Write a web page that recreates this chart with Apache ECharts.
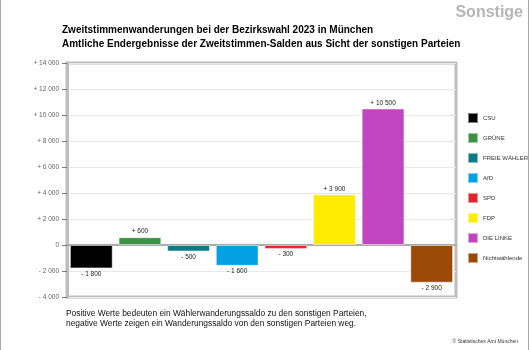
<!DOCTYPE html>
<html lang="de">
<head>
    <meta charset="UTF-8">
    <title>Sonstige</title>
    <style>
        body,html{
            margin: 0;
            padding: 0;
            background: #fff;
        }
    </style>
</head>
<body>
<div id="main" style="width:530px; height:350px;"></div>
<script src="https://cdn.jsdelivr.net/npm/echarts@6/dist/echarts.min.js"></script>
<script>
    var parteien = ['CSU', 'GRÜNE', 'FREIE WÄHLER', 'AfD', 'SPD', 'FDP', 'DIE LINKE', 'Nichtwählende'];
    var salden = [-1800, 600, -500, -1600, -300, 3900, 10500, -2900];
    var farben = ['#000000', '#3f9142', '#0c7b84', '#03a0e3', '#e0242b', '#ffec00', '#c145c1', '#9a4a06'];
    var yTicks = { min: -4000, max: 14000, interval: 2000 };

    function fmt(v) {
        var s = String(Math.abs(v)).replace(/\B(?=(\d{3})+(?!\d))/g, ' ');
        if (v > 0) return '+ ' + s;
        if (v < 0) return '- ' + s;
        return '0';
    }

    var series = parteien.map(function (p, i) {
        return {
            name: p,
            type: 'bar',
            stack: 'alle',
            barWidth: '88%',
            itemStyle: { color: farben[i], borderColor: 'rgba(255,255,255,0.5)', borderWidth: 1 },
            label: {
                show: true,
                position: salden[i] >= 0 ? 'top' : 'bottom',
                distance: 2,
                fontSize: 6.5,
                color: '#222',
                fontFamily: 'Liberation Sans',
                formatter: function (d) { return fmt(d.value); }
            },
            data: parteien.map(function (q, j) { return j === i ? salden[i] : '-'; })
        };
    });

    var myChart = echarts.init(document.getElementById('main'));
    myChart.setOption({
        animation: false,
        textStyle: { fontFamily: 'Liberation Sans' },
        title: [
            {
                text: 'Sonstige',
                right: 7, top: 5, padding: 0,
                textStyle: { fontSize: 16, fontWeight: 'bold', color: '#b5b5b5' }
            },
            {
                text: 'Zweitstimmenwanderungen bei der Bezirkswahl 2023 in München\nAmtliche Endergebnisse der Zweitstimmen-Salden aus Sicht der sonstigen Parteien',
                left: 62, top: 23, padding: 0,
                textStyle: { fontSize: 10, fontWeight: 'bold', color: '#000', lineHeight: 14 }
            },
            {
                text: 'Positive Werte bedeuten ein Wählerwanderungssaldo zu den sonstigen Parteien,\nnegative Werte zeigen ein Wanderungssaldo von den sonstigen Parteien weg.',
                left: 66, top: 308, padding: 0,
                textStyle: { fontSize: 8.4, fontWeight: 'normal', color: '#111', lineHeight: 10.5 }
            },
            {
                text: '© Statistisches Amt München',
                right: 12, top: 339, padding: 0,
                textStyle: { fontSize: 5, fontWeight: 'normal', color: '#333' }
            }
        ],
        legend: {
            orient: 'vertical',
            left: 467, top: 112, padding: 0,
            itemWidth: 10, itemHeight: 10, itemGap: 8,
            icon: 'rect',
            selectedMode: false,
            textStyle: { fontSize: 6, color: '#333', lineHeight: 10, padding: [0, 0, 0, 0] },
            data: parteien
        },
        grid: {
            left: 67, right: 74, top: 63, bottom: 53,
            show: true,
            borderColor: '#bdbdbd',
            borderWidth: 3
        },
        xAxis: {
            type: 'category',
            data: parteien,
            axisLine: { onZero: true, lineStyle: { color: '#aaaaaa', width: 2 } },
            axisTick: { show: false },
            axisLabel: { show: false }
        },
        yAxis: {
            type: 'value',
            min: yTicks.min, max: yTicks.max, interval: yTicks.interval,
            axisLine: { show: true, lineStyle: { color: '#bdbdbd', width: 3 } },
            axisTick: { show: true, length: 5, lineStyle: { color: '#777' } },
            axisLabel: { fontSize: 6.5, color: '#666', margin: 8, formatter: fmt },
            splitLine: { lineStyle: { color: '#e8e8e8' } }
        },
        graphic: [
            { type: 'line', shape: { x1: 0.5, y1: 0, x2: 0.5, y2: 350 }, style: { stroke: '#aaa', lineWidth: 1 } },
            { type: 'line', shape: { x1: 528.5, y1: 0, x2: 528.5, y2: 350 }, style: { stroke: '#aaa', lineWidth: 1 } }
        ],
        series: series
    });
</script>
</body>
</html>
